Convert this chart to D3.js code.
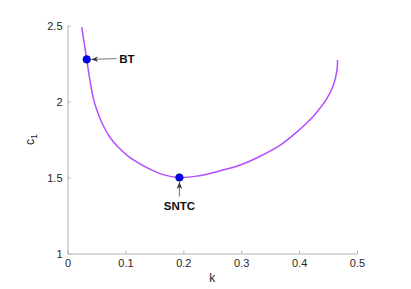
<!DOCTYPE html>
<html lang="en">
<head>
    <title>c1 vs k</title>
    <style>
        body { margin: 0; background: #fff; }
        .chart text { font-family: "Liberation Sans", Arial, sans-serif; }
        .chart .domain { stroke: #b3b3b3; stroke-width: 1; }
        .chart .tick line { stroke: #b3b3b3; }
        .chart .tick text { fill: #262626; font-size: 11px; }
    </style>
</head>
<body>
<div id="chart"></div>
<script src="https://d3js.org/d3.v7.min.js"></script>
<script>
    // curve: k and c1
    var kValues = [0.0247, 0.0332, 0.0387, 0.0441, 0.0501, 0.0588, 0.0718, 0.0873, 0.1046, 0.1202, 0.1375,
        0.1651, 0.1933, 0.2234, 0.2637, 0.2982, 0.3328, 0.3674, 0.3963, 0.4250, 0.4481, 0.4595, 0.4654, 0.4665];
    var c1Values = [2.487, 2.277, 2.141, 2.029, 1.950, 1.865, 1.773, 1.700, 1.641, 1.601, 1.564,
        1.519, 1.500, 1.509, 1.544, 1.582, 1.640, 1.713, 1.800, 1.905, 2.020, 2.110, 2.207, 2.273];

    // labelled points
    var pointNames = ["BT", "SNTC"];
    var pointK = [0.0332, 0.1933];
    var pointC = [2.277, 1.500];

    var xTicks = [0, 0.1, 0.2, 0.3, 0.4, 0.5];
    var yTicks = [1, 1.5, 2, 2.5];

    var width = 411, height = 289;
    var margin = {top: 25.5, right: 54, bottom: 35.5, left: 67.5};
    var w = width - margin.left - margin.right, h = height - margin.top - margin.bottom;

    var svg = d3.select("#chart").append("svg").attr("class", "chart")
        .attr("width", width).attr("height", height);

    svg.append("defs").append("marker")
        .attr("id", "arrow").attr("viewBox", "0 0 10 10")
        .attr("refX", 10).attr("refY", 5)
        .attr("markerWidth", 7).attr("markerHeight", 7)
        .attr("markerUnits", "userSpaceOnUse")
        .attr("orient", "auto")
        .append("path").attr("d", "M0,1 L10,5 L0,9 L3,5 Z").attr("fill", "#333");

    var g = svg.append("g").attr("transform", "translate(" + margin.left + "," + margin.top + ")");

    var x = d3.scaleLinear().domain([0, 0.5]).range([0, w]);
    var y = d3.scaleLinear().domain([1, 2.5]).range([h, 0]);

    var xAxis = d3.axisBottom(x).tickValues(xTicks).tickFormat(d3.format("")).tickSizeInner(-3).tickSizeOuter(0).tickPadding(6);
    var yAxis = d3.axisLeft(y).tickValues(yTicks).tickFormat(d3.format("")).tickSizeInner(-3).tickSizeOuter(0).tickPadding(5);

    g.append("g").attr("transform", "translate(0," + h + ")").call(xAxis);
    g.append("g").call(yAxis);

    var line = d3.line().curve(d3.curveCatmullRom.alpha(0.5))
        .x(function (d) { return x(d[0]); })
        .y(function (d) { return y(d[1]); });

    g.append("path").datum(d3.zip(kValues, c1Values))
        .attr("d", line).attr("fill", "none")
        .attr("stroke", "#b44cff").attr("stroke-width", 1.5);

    // arrows and labels
    var bt = [x(pointK[0]), y(pointC[0])];
    g.append("line").attr("x1", bt[0] + 30).attr("y1", bt[1] - 0.8)
        .attr("x2", bt[0] + 4.5).attr("y2", bt[1])
        .attr("stroke", "#555").attr("stroke-width", 0.8).attr("marker-end", "url(#arrow)");
    g.append("text").attr("x", bt[0] + 32.5).attr("y", bt[1] + 4)
        .attr("font-size", 11.5).attr("font-weight", "bold").attr("fill", "#111").text(pointNames[0]);

    var sn = [x(pointK[1]), y(pointC[1])];
    g.append("line").attr("x1", sn[0]).attr("y1", sn[1] + 19)
        .attr("x2", sn[0]).attr("y2", sn[1] + 4.5)
        .attr("stroke", "#555").attr("stroke-width", 0.8).attr("marker-end", "url(#arrow)");
    g.append("text").attr("x", sn[0]).attr("y", sn[1] + 32).attr("text-anchor", "middle")
        .attr("font-size", 11.5).attr("font-weight", "bold").attr("fill", "#111").text(pointNames[1]);

    g.selectAll(".pt").data(d3.zip(pointK, pointC)).enter().append("circle").attr("class", "pt")
        .attr("cx", function (d) { return x(d[0]); })
        .attr("cy", function (d) { return y(d[1]); })
        .attr("r", 3.8).attr("fill", "#0000ff").attr("stroke", "#0a0a60").attr("stroke-width", 0.6);

    // axis labels
    svg.append("text").attr("x", margin.left + x(0.25)).attr("y", 282)
        .attr("text-anchor", "middle").attr("font-size", 12).attr("fill", "#262626").text("k");
    var yl = svg.append("text").attr("transform", "translate(34," + (margin.top + y(1.75)) + ") rotate(-90)")
        .attr("text-anchor", "middle").attr("font-size", 12).attr("fill", "#262626");
    yl.append("tspan").text("c");
    yl.append("tspan").attr("font-size", 9).attr("dy", 3).text("1");
</script>
</body>
</html>
